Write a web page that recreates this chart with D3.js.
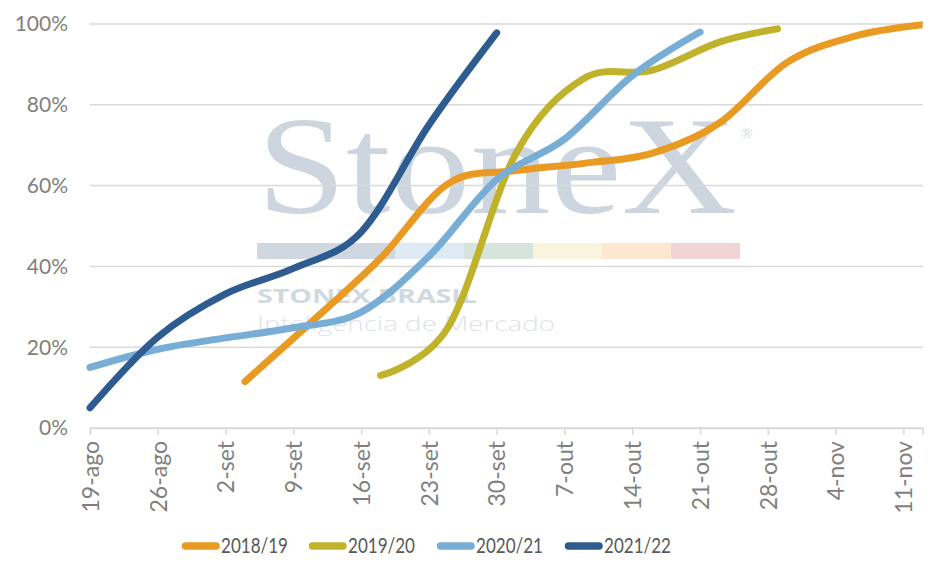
<!DOCTYPE html>
<html>
<head>
<meta charset="utf-8">
<script src="https://cdn.jsdelivr.net/npm/d3@7"></script>
<style>
  html, body { margin: 0; padding: 0; background: #ffffff; }
  svg { display: block; }
</style>
</head>
<body>
<div id="chart"></div>
<script>
// ---------- DATA ----------
const xTickLabels = ["19-ago","26-ago","2-set","9-set","16-set","23-set","30-set","7-out","14-out","21-out","28-out","4-nov","11-nov"];
const yTickValues = [0, 20, 40, 60, 80, 100];
const seriesNames = ["2018/19", "2019/20", "2020/21", "2021/22"];
const seriesColors = ["#e99a22", "#c1b22b", "#78aed6", "#2e5c90"];

const dates1819  = ["4-set","11-set","18-set","25-set","2-out","9-out","16-out","23-out","30-out","6-nov","13-nov"];
const values1819 = [11.5, 26.5, 42, 60.5, 63.7, 65.5, 68, 75.5, 90.5, 97, 99.8];

const dates1920  = ["18-set","25-set","2-out","9-out","16-out","23-out","29-out"];
const values1920 = [13, 25, 68, 86.5, 88.5, 95.5, 98.8];

const dates2021  = ["19-ago","26-ago","2-set","9-set","16-set","23-set","30-set","7-out","14-out","21-out"];
const values2021 = [15, 19.5, 22.3, 24.8, 28.7, 42.5, 61.5, 71.5, 87.2, 98];

const dates2122  = ["19-ago","26-ago","2-set","9-set","16-set","23-set","30-set"];
const values2122 = [5, 22.5, 33.2, 39.5, 48.5, 75, 97.8];

const axisStart = "19-ago";
const axisEnd   = "13-nov";

// ---------- HELPERS ----------
const monthIdx = {jan:0, fev:1, mar:2, abr:3, mai:4, jun:5, jul:6, ago:7, set:8, out:9, nov:10, dez:11};
function parseD(s) {
  const [d, m] = s.split("-");
  return new Date(Date.UTC(2021, monthIdx[m], +d));
}

const W = 945, H = 578;
const svg = d3.select("#chart").append("svg").attr("width", W).attr("height", H);

const x = d3.scaleUtc().domain([parseD(axisStart), parseD(axisEnd)]).range([90, 922.7]);
const y = d3.scaleLinear().domain([0, 100]).range([428, 24]);

const FONT = "Lato, 'Open Sans', sans-serif";

// ---------- WATERMARK ----------
const wm = svg.append("g").attr("class", "watermark");
wm.append("text").attr("x", 257).attr("y", 213)
  .attr("font-family", "'Liberation Serif', 'DejaVu Serif', serif")
  .attr("font-size", 140).attr("fill", "#cdd6de")
  .attr("textLength", 480).attr("lengthAdjust", "spacingAndGlyphs")
  .text("StoneX");
wm.append("text").attr("x", 741).attr("y", 138)
  .attr("font-family", FONT).attr("font-size", 14).attr("fill", "#d3dbe2")
  .text("®");
const bandColors = ["#cfd8e1", "#deeaf4", "#d6e4dc", "#f8f4dd", "#fce8d0", "#f1d5d6"];
const bandEdges = [257, 395, 464, 533, 602, 671, 740];
bandColors.forEach((c, i) => {
  wm.append("rect").attr("x", bandEdges[i]).attr("y", 243)
    .attr("width", bandEdges[i+1] - bandEdges[i]).attr("height", 16).attr("fill", c);
});
wm.append("text").attr("x", 257).attr("y", 303)
  .attr("font-family", "'Open Sans', 'DejaVu Sans', sans-serif").attr("font-weight", 700)
  .attr("font-size", 19).attr("fill", "#d0d9e1")
  .attr("textLength", 220).attr("lengthAdjust", "spacingAndGlyphs")
  .text("STONEX BRASIL");
wm.append("text").attr("x", 257).attr("y", 331)
  .attr("font-family", "'Open Sans', 'DejaVu Sans', sans-serif").attr("font-weight", 300)
  .attr("font-size", 21).attr("fill", "#dde3ea")
  .attr("textLength", 298).attr("lengthAdjust", "spacingAndGlyphs")
  .text("Inteligência de Mercado");

// ---------- GRID & Y LABELS ----------
const grid = svg.append("g");
yTickValues.forEach(v => {
  grid.append("line")
    .attr("x1", 90).attr("x2", 922.7)
    .attr("y1", y(v)).attr("y2", y(v))
    .attr("stroke", "#d9d9d9").attr("stroke-width", 1.5);
  grid.append("text")
    .attr("x", 68).attr("y", y(v)).attr("dy", "0.35em")
    .attr("text-anchor", "end")
    .attr("font-family", FONT).attr("font-size", 21).attr("fill", "#7f7f7f")
    .text(v + "%");
});

// ---------- X AXIS ----------
const tickDates = xTickLabels.map(parseD);
const xAxis = d3.axisBottom(x).tickValues(tickDates).tickSize(7)
  .tickFormat((d, i) => xTickLabels[i]);
const gx = svg.append("g").attr("transform", `translate(0,${y(0)})`).call(xAxis);
gx.select(".domain").attr("stroke", "#d9d9d9").attr("stroke-width", 1.5);
gx.selectAll(".tick line").attr("stroke", "#d9d9d9").attr("stroke-width", 1.5);
gx.selectAll(".tick text")
  .attr("font-family", FONT).attr("font-size", 23).attr("fill", "#7f7f7f")
  .attr("text-anchor", "end")
  .attr("transform", "rotate(-90)")
  .attr("x", -13).attr("y", 0).attr("dy", "0.36em");

// ---------- LINES ----------
svg.append("clipPath").attr("id", "plotclip")
  .append("rect").attr("x", 0).attr("y", 21).attr("width", 922.7).attr("height", 420);

const series = [
  {name: seriesNames[0], color: seriesColors[0], dates: dates1819, values: values1819},
  {name: seriesNames[1], color: seriesColors[1], dates: dates1920, values: values1920},
  {name: seriesNames[2], color: seriesColors[2], dates: dates2021, values: values2021},
  {name: seriesNames[3], color: seriesColors[3], dates: dates2122, values: values2122}
];
const line = d3.line()
  .x(d => x(d.date)).y(d => y(d.value))
  .curve(d3.curveCatmullRom.alpha(0));

const lg = svg.append("g").attr("clip-path", "url(#plotclip)");
series.forEach(s => {
  const pts = s.dates.map((d, i) => ({date: parseD(d), value: s.values[i]}));
  lg.append("path").datum(pts)
    .attr("d", line)
    .attr("fill", "none").attr("stroke", s.color)
    .attr("stroke-width", 7).attr("stroke-linecap", "round").attr("stroke-linejoin", "round");
});

// ---------- LEGEND ----------
const legendX = [182, 309, 437, 565];
const leg = svg.append("g");
series.forEach((s, i) => {
  const g = leg.append("g").attr("transform", `translate(${legendX[i]},546)`);
  g.append("line").attr("x1", 3.5).attr("x2", 34).attr("y1", 0).attr("y2", 0)
    .attr("stroke", s.color).attr("stroke-width", 7.5).attr("stroke-linecap", "round");
  g.append("text").attr("x", 39).attr("y", 0).attr("dy", "0.36em")
    .attr("font-family", FONT).attr("font-size", 20.5).attr("fill", "#595959")
    .attr("textLength", 67).attr("lengthAdjust", "spacingAndGlyphs")
    .text(s.name);
});
</script>
</body>
</html>
